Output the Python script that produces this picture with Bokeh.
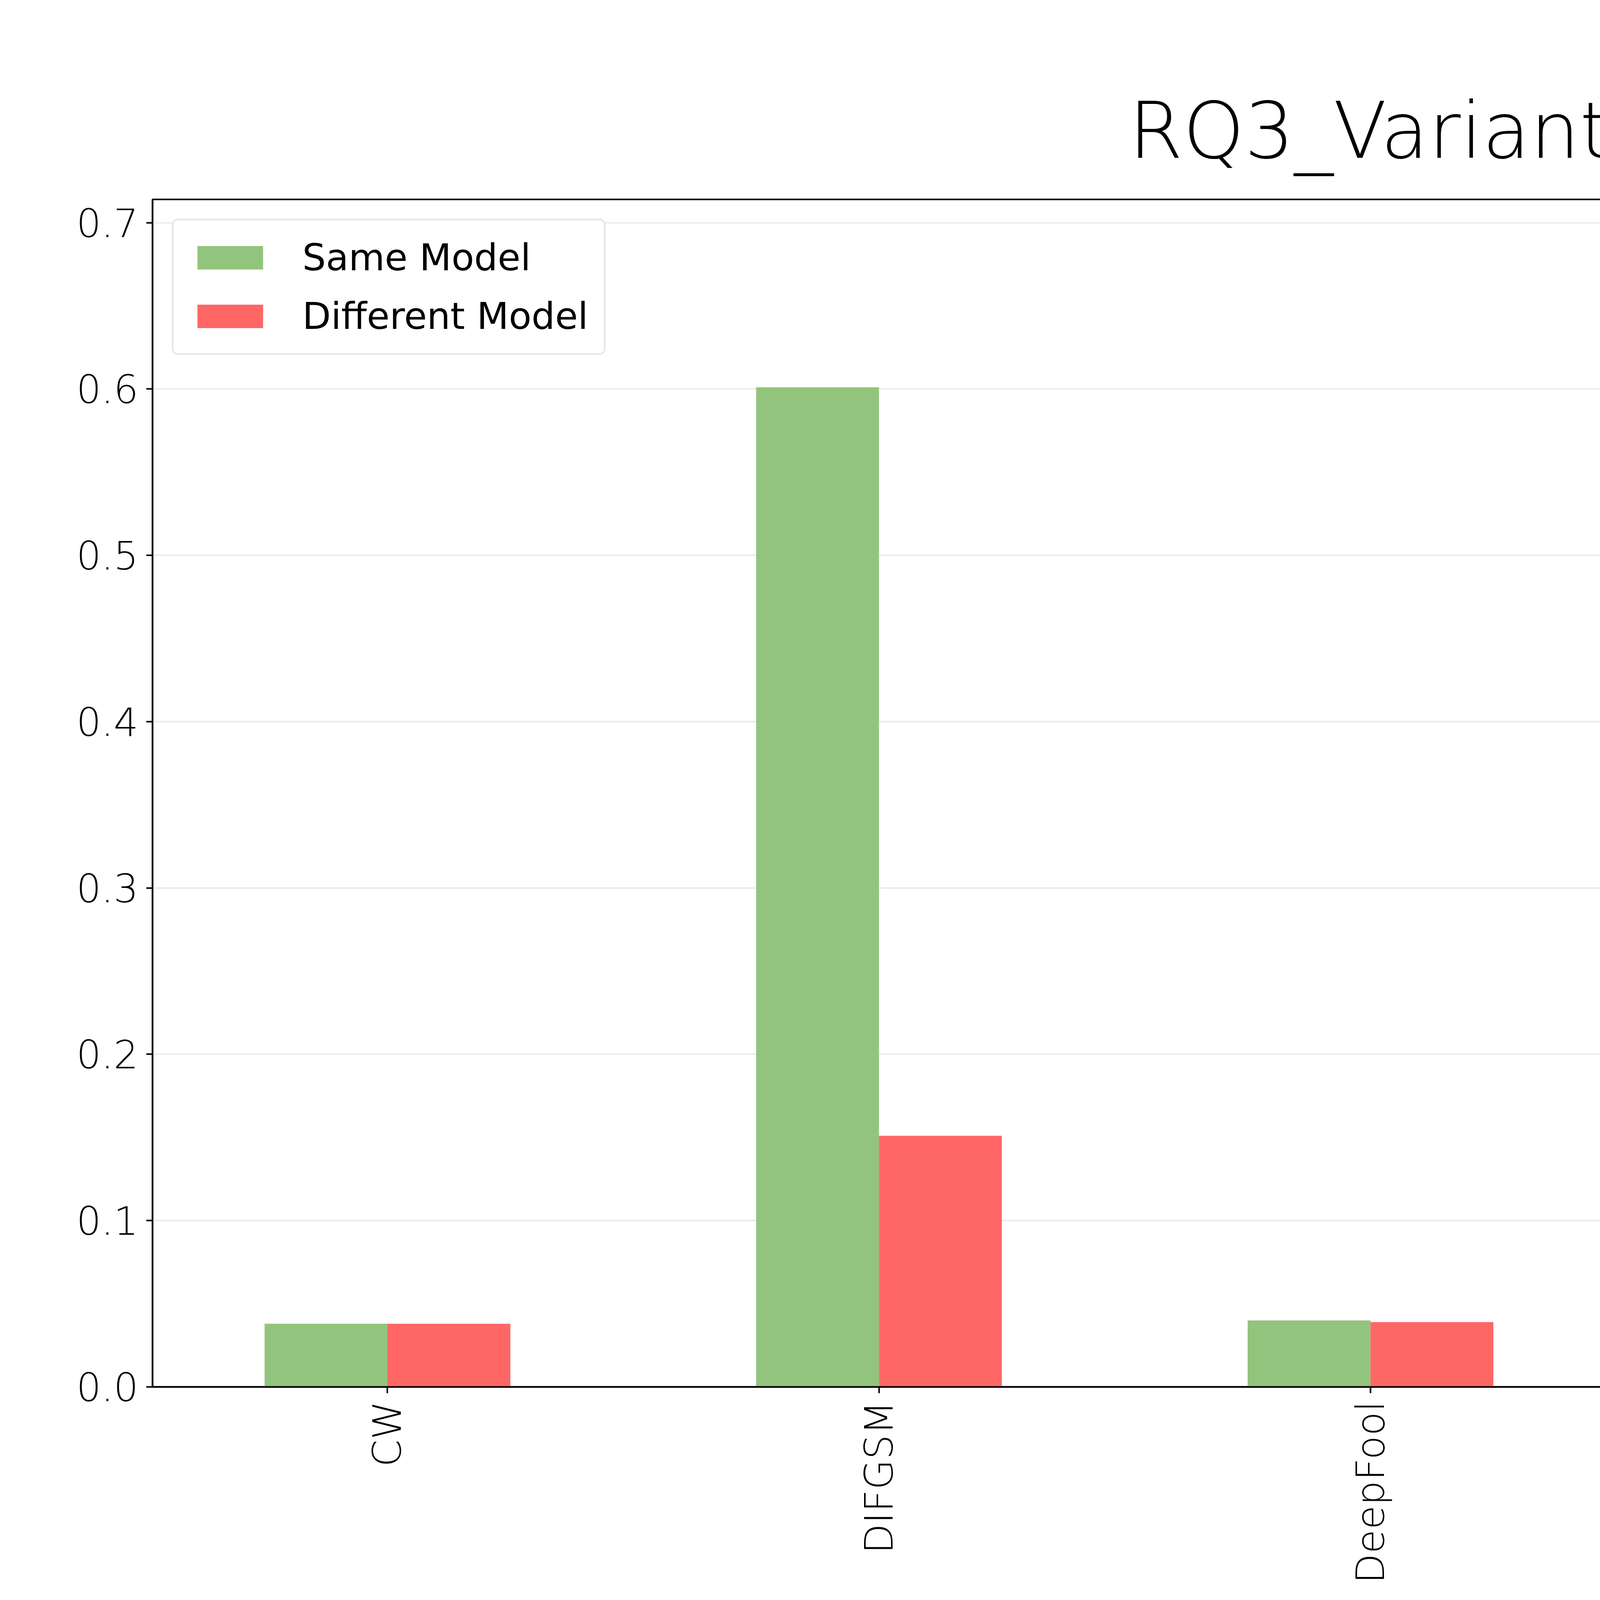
import math
from bokeh.plotting import figure
from bokeh.models import ColumnDataSource, FixedTicker, Legend, LegendItem
from bokeh.embed import file_html
from bokeh.resources import INLINE

attacks = ["CW", "DIFGSM", "DeepFool", "FAB", "FGSM"]
same_model = [0.038, 0.601, 0.040, 0.039, 0.046]
different_model = [0.038, 0.151, 0.039, 0.038, 0.040]

FONT = "DejaVu Sans"
pos = list(range(len(attacks)))

src = ColumnDataSource(data=dict(
    x_same=[i - 0.125 for i in pos],
    x_diff=[i + 0.125 for i in pos],
    same=same_model,
    diff=different_model,
))

p = figure(width=6731, height=4600, x_range=(-0.478, 4.474), y_range=(0, 0.714),
           output_backend="svg", toolbar_location=None,
           min_border_left=390, min_border_right=110, min_border_top=510, min_border_bottom=1050)

r1 = p.vbar(x="x_same", top="same", width=0.25, source=src, color="#93c47d", line_color=None)
r2 = p.vbar(x="x_diff", top="diff", width=0.25, source=src, color="#ff6666", line_color=None)

p.title.text = "RQ3_Variant"
p.title.align = "center"
p.title.text_font = FONT
p.title.text_font_size = "200px"
p.title.text_font_style = "normal"
p.title.text_color = "black"
p.title.offset = 0
p.title.standoff = 120

p.outline_line_color = "black"
p.outline_line_width = 4
p.xgrid.grid_line_color = None
p.ygrid.grid_line_color = "#ebebeb"
p.ygrid.grid_line_width = 4

p.xaxis.ticker = FixedTicker(ticks=pos)
p.xaxis.major_label_overrides = {i: a for i, a in enumerate(attacks)}
p.xaxis.major_label_orientation = math.pi / 2
p.yaxis.ticker = FixedTicker(ticks=[0, 0.1, 0.2, 0.3, 0.4, 0.5, 0.6, 0.7])
p.yaxis.major_label_overrides = {0: "0.0"}
p.xaxis.axis_label = "Attacks"
for ax in (p.xaxis, p.yaxis):
    ax.major_label_text_font = FONT
    ax.major_label_text_font_size = "100px"
    ax.major_label_text_color = "black"
    ax.axis_label_text_font = FONT
    ax.axis_label_text_font_size = "135px"
    ax.axis_label_text_font_style = "normal"
    ax.axis_label_text_color = "black"
    ax.axis_label_standoff = 150
    ax.major_tick_out = 16
    ax.major_tick_in = 0
    ax.major_tick_line_width = 4
    ax.minor_tick_line_color = None
    ax.axis_line_width = 4
    ax.major_label_standoff = 20

legend = Legend(items=[LegendItem(label="Same Model", renderers=[r1]),
                       LegendItem(label="Different Model", renderers=[r2])],
                location="top_left")
legend.label_text_font = FONT
legend.label_text_font_size = "95px"
legend.label_text_color = "black"
legend.glyph_width = 210
legend.glyph_height = 75
legend.label_standoff = 80
legend.spacing = 40
legend.padding = 40
legend.margin = 50
legend.border_line_color = "#cccccc"
legend.border_line_width = 4
legend.border_radius = 15
p.add_layout(legend)

open("out.html", "w").write(file_html(p, INLINE))
